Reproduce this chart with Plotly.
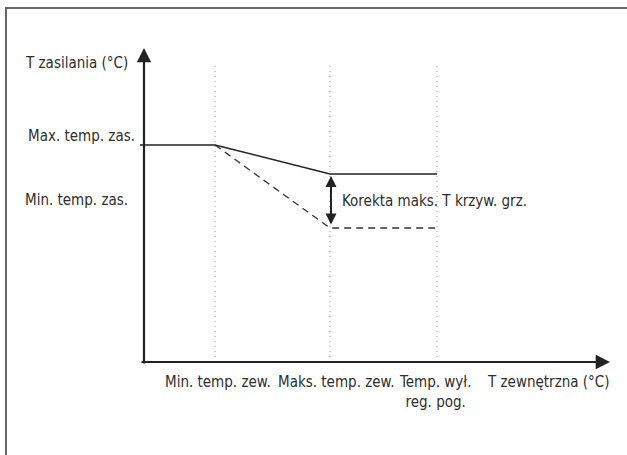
import plotly.graph_objects as go

# conceptual curve data (x: outdoor temp, y: supply temp), units = px from axis origin
t_zew_ticks = [71, 186, 293]
t_zew_labels = ["Min. temp. zew.", "Maks. temp. zew.", "Temp. wył.<br>reg. pog."]

curve_x = [-4, 71, 186, 293]
curve_max = [217, 217, 188, 188]

corr_x = [71, 186, 293]
corr_min = [217, 134, 134]

y_labels = ["Max. temp. zas.", "Min. temp. zas."]
y_label_pos = [226, 162]

FONT = "Liberation Sans Narrow, DejaVu Sans Condensed, Roboto, sans-serif"
FS = 15
TXT = "#2e2e2e"

fig = go.Figure()

# dotted guides
for xv in t_zew_ticks:
    fig.add_trace(go.Scatter(
        x=[xv, xv], y=[0, 297], mode="lines",
        line=dict(color="#9a9a9a", width=1, dash="1px,4px"),
        hoverinfo="skip",
    ))

fig.add_trace(go.Scatter(
    x=curve_x, y=curve_max, mode="lines",
    line=dict(color="#222222", width=1.5), hoverinfo="skip",
))
fig.add_trace(go.Scatter(
    x=corr_x, y=corr_min, mode="lines",
    line=dict(color="#333333", width=1.3, dash="7px,5px"), hoverinfo="skip",
))

# axes with arrows
fig.add_annotation(x=0, y=314, ax=0, ay=-3, xref="x", yref="y", axref="x", ayref="y",
                   text="", showarrow=True, arrowhead=2, arrowsize=1.3, arrowwidth=2.2,
                   arrowcolor="#222222", standoff=0)
fig.add_annotation(x=466, y=0, ax=-4, ay=0, xref="x", yref="y", axref="x", ayref="y",
                   text="", showarrow=True, arrowhead=2, arrowsize=1.3, arrowwidth=2.2,
                   arrowcolor="#222222", standoff=0)
# correction double arrow
fig.add_annotation(x=187, y=186, ax=187, ay=136, xref="x", yref="y", axref="x", ayref="y",
                   text="", showarrow=True, arrowhead=2, arrowside="end+start",
                   arrowsize=1.1, arrowwidth=2, arrowcolor="#222222", standoff=0, startstandoff=0)

fig.add_annotation(x=196, y=161, text="Korekta maks. T krzyw. grz.", showarrow=False,
                   xanchor="left", yanchor="middle", font=dict(family=FONT, size=FS, color=TXT))

# y labels
fig.add_annotation(x=-14, y=299, text="T zasilania (°C)", showarrow=False,
                   xanchor="right", yanchor="middle", font=dict(family=FONT, size=FS, color=TXT))
for lab, yv, xo in zip(y_labels, y_label_pos, [-7, -14]):
    fig.add_annotation(x=xo, y=yv, text=lab, showarrow=False,
                       xanchor="right", yanchor="middle", font=dict(family=FONT, size=FS, color=TXT))

# x labels
for lab, xv, dx in zip(t_zew_labels, t_zew_ticks, [3, 6, -2]):
    fig.add_annotation(x=xv + dx, y=-9, text=lab, showarrow=False,
                       xanchor="center", yanchor="top", font=dict(family=FONT, size=FS, color=TXT))
fig.add_annotation(x=404, y=-9, text="T zewnętrzna (°C)", showarrow=False,
                   xanchor="center", yanchor="top", font=dict(family=FONT, size=FS, color=TXT))

# outer frame
fig.add_shape(type="rect", xref="paper", yref="paper", x0=6 / 627, x1=1.05, y0=-0.05, y1=1 - 8 / 455,
              line=dict(color="#666666", width=2))

fig.update_xaxes(range=[-144, 483], visible=False, fixedrange=True)
fig.update_yaxes(range=[-93, 362], visible=False, fixedrange=True)
fig.update_layout(
    width=627, height=455,
    margin=dict(l=0, r=0, t=0, b=0),
    plot_bgcolor="white", paper_bgcolor="white",
    showlegend=False,
)

fig.write_html("out.html", config={"displayModeBar": False},
               post_script="document.body.style.margin='0px';")
